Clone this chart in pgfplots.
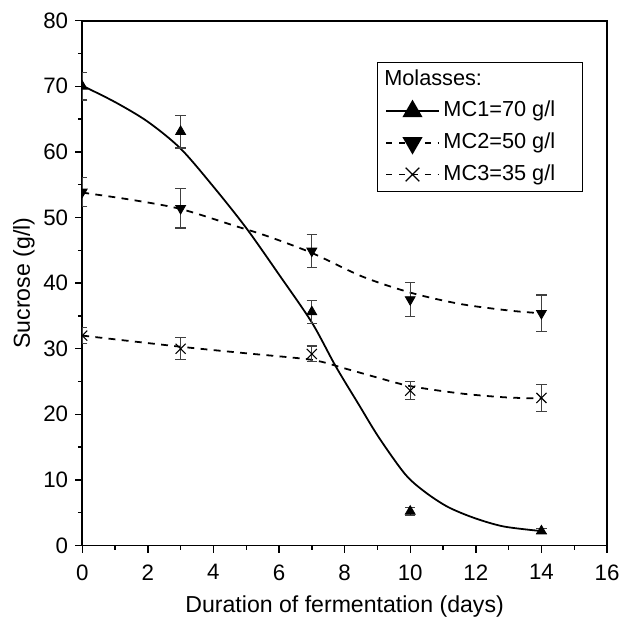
\documentclass[border=0pt]{standalone}
\usepackage{fontspec}
\setmainfont{Liberation Sans}
\usepackage{pgfplots}
\pgfplotsset{compat=1.18}

\begin{document}
\begin{tikzpicture}
\begin{axis}[
  scale only axis,
  width=265.8pt, height=265.8pt,
  xmin=0, xmax=16, ymin=0, ymax=80,
  xtick={0,2,...,16}, ytick={0,10,...,80},
  minor x tick num=1, minor y tick num=1,
  tick pos=left, tick align=outside,
  major tick length=3.6pt, minor tick length=2.2pt,
  tick style={line width=0.7pt, black},
  axis line style={line width=0.8pt},
  /pgf/number format/assume math mode=true,
  tick label style={font=\fontsize{11.3}{13}\selectfont},
  xticklabel style={yshift=-2.5pt},
  label style={font=\fontsize{11.7}{14}\selectfont},
  xlabel={Duration of fermentation (days)},
  ylabel={Sucrose (g/l)},
  xlabel style={yshift=-1pt},
  ylabel style={yshift=-2.5pt},
  clip mode=individual,
  clip marker paths=true,
  legend image code/.code={\draw[mark repeat=2, mark phase=2, #1] plot coordinates {(0pt,0pt) (13.25pt,0pt) (26.5pt,0pt)};},
  legend cell align=left,
  legend style={at={(rel axis cs:0.955,0.921)}, anchor=north east,
    draw=black, line width=0.6pt, inner xsep=4pt, inner ysep=1.5pt,
    row sep=1.8pt,
    nodes={inner ysep=1.9pt, text height=8pt, text depth=2.4pt},
    font=\fontsize{11}{13}\selectfont},
]

% bounding frame to match the reference margins
\path (rel axis cs:-0.1567,-0.1322) rectangle (rel axis cs:1.0207,1.0395);

% fitted curves
\addplot[black, line width=0.9pt, smooth, forget plot] coordinates {
  (0,70.1) (1,67.6) (2,64.6) (3,60.5) (4,54.7) (5,48.4) (6,41.3) (7,34.0)
  (7.73,27.3) (8.43,21.5) (9.04,16.5) (9.84,10.9) (10.44,8.2) (11.14,5.9)
  (11.95,4.2) (12.85,2.9) (14,2.2)
};
\addplot[black, line width=0.9pt, dash pattern=on 3.5pt off 3.2pt, smooth, forget plot] coordinates {
  (0,53.8) (1.5,52.7) (3,51.3) (4.67,48.7) (5.62,47.2) (7,44.6) (8.54,41.0)
  (10.04,38.5) (11.55,36.8) (13.05,35.8) (14,35.4)
};
\addplot[black, line width=0.9pt, dash pattern=on 3.5pt off 3.2pt, smooth, forget plot] coordinates {
  (0,32.0) (3,30.3) (5,29.3) (7,28.3) (8,27.0) (9,25.6) (10,24.3)
  (11.5,23.2) (12.85,22.6) (14,22.4)
};

% measured points with error bars
\addplot[only marks, mark=triangle*, mark size=2.9pt, black, forget plot,
  error bars/.cd, y dir=both, y explicit,
  error bar style={line width=0.6pt, black!75},
  error mark options={rotate=90, mark size=2.6pt, line width=0.6pt, black!75}]
  coordinates {
  (0,70.0) +- (0,2.1)
  (3,63.1) +- (0,2.5)
  (7,35.6) +- (0,1.8)
  (10,5.2) +- (0,0.6)
  (14,2.2) +- (0,0.4)
};
\addplot[only marks, mark=triangle*, mark options={rotate=180}, mark size=2.9pt, black, forget plot,
  error bars/.cd, y dir=both, y explicit,
  error bar style={line width=0.6pt, black!75},
  error mark options={rotate=90, mark size=2.6pt, line width=0.6pt, black!75}]
  coordinates {
  (0,53.9) +- (0,2.2)
  (3,51.4) +- (0,3.0)
  (7,44.9) +- (0,2.5)
  (10,37.5) +- (0,2.6)
  (14,35.4) +- (0,2.8)
};
\addplot[only marks, mark=x, mark size=3.6pt, mark options={line width=0.55pt}, black, forget plot,
  error bars/.cd, y dir=both, y explicit,
  error bar style={line width=0.6pt, black!75},
  error mark options={rotate=90, mark size=2.6pt, line width=0.6pt, black!75}]
  coordinates {
  (0,32.0) +- (0,1.2)
  (3,30.0) +- (0,1.7)
  (7,29.2) +- (0,1.2)
  (10,23.6) +- (0,1.4)
  (14,22.5) +- (0,2.1)
};

\addlegendimage{empty legend}
\addlegendentry{\rule{0pt}{12.3pt}\hspace*{-30pt}Molasses:}
\addlegendimage{black, line width=0.9pt, mark=triangle*, mark size=5pt}
\addlegendentry{MC1=70 g/l\hspace*{8pt}}
\addlegendimage{black, line width=0.9pt, dash pattern=on 3pt off 3.5pt, mark=triangle*, mark size=5pt, mark options={rotate=180, solid}}
\addlegendentry{MC2=50 g/l}
\addlegendimage{black, line width=0.9pt, dash pattern=on 3pt off 3.5pt, mark=x, mark size=4.9pt, mark options={solid, line width=0.6pt}}
\addlegendentry{MC3=35 g/l}

\end{axis}
\end{tikzpicture}
\end{document}
